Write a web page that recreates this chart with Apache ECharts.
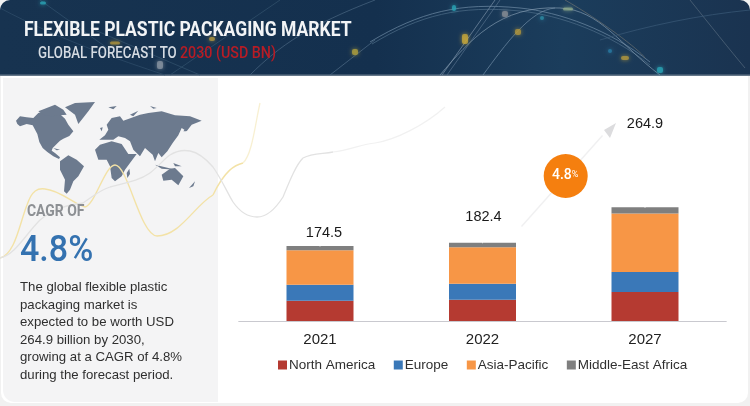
<!DOCTYPE html>
<html><head><meta charset="utf-8">
<style>html,body{margin:0;padding:0;background:#fff}#c{width:750px;height:406px}</style>
<script src="https://cdn.jsdelivr.net/npm/echarts@6/dist/echarts.min.js"></script>
</head><body><div id="c"></div>
<script>
const years = ['2021','2022','2027'];
const northAmerica = [47, 49.3, 67.4];
const europe = [37.6, 37.6, 46.5];
const asiaPacific = [80, 85, 136.4];
const middleEastAfrica = [9.9, 10.5, 14.6];
const totals = [174.5, 182.4, 264.9];
const totalLabelLift = [1, -12, -69];
const colors = ['#b53a31','#3a78b8','#f79646','#7f7f7f'];
const font = 'Liberation Sans';

function curve(d, style, z){
  const nums = d.replace(/[MCL]/g,m=>' '+m+' ').trim().split(/\s+/);
  const out=[]; let i=0,x=0,y=0,cmd='';
  const pt=()=>nums[i++].split(',').map(Number);
  while(i<nums.length){
    if(/[MCL]/.test(nums[i])){cmd=nums[i++];continue;}
    if(cmd==='M'){[x,y]=pt();}
    else if(cmd==='L'){const p=pt();out.push({type:'line',shape:{x1:x,y1:y,x2:p[0],y2:p[1]},style:{fill:null,...style},silent:true,z});[x,y]=p;}
    else {const a=pt(),b=pt(),c=pt();out.push({type:'bezierCurve',shape:{x1:x,y1:y,cpx1:a[0],cpy1:a[1],cpx2:b[0],cpy2:b[1],x2:c[0],y2:c[1]},style:{fill:null,...style},silent:true,z});[x,y]=c;}
  }
  return out;
}

const decorLines = [
 ['M370,42 C420,12 460,2 520,8 C560,12 610,30 650,62','#6f8ba5'],
 ['M372,44 C420,15 460,5 520,11 C560,15 610,33 650,65','#4f6d89'],
 ['M440,75 C470,40 500,5 560,8 C600,10 620,45 660,75','#8099ae'],
 ['M483,75 C505,45 530,10 555,8','#6f8ba5'],
 ['M442,75 L495,0','#7b90a6'],['M447,75 L500,0','#56708c'],
 ['M565,0 C600,20 640,50 645,58','#6a6f70'],
 ['M690,0 C710,25 730,50 745,68','#566a7e'],
 ['M600,40 C650,25 700,15 750,10','#3a5a78'],
 ['M0,8 C60,40 120,60 165,75','#2f4d6a'],
 ['M40,0 L110,50','#33526e'],
 ['M250,75 C280,45 310,25 375,0','#4a6682'],
 ['M170,75 L280,0','#33526e'],
 ['M330,75 L375,40','#4e6b86'],
 ['M90,28 L200,75','#33526e']
].flatMap(d => curve(d[0],{stroke:d[1],lineWidth:1,opacity:.7},2));

const sparks = [
 [454,8,'#2aa7b8',2,3],[465,39,'#c9a93a',3,5],[518,32,'#b3973c',3,3],[542,18,'#2d8fa8',2,2],
 [568,9,'#8fa98a',5,1.5],[610,51,'#2a7fa8',2,2],[625,58,'#b59a3c',4,2],[660,70,'#2aa7b8',3,3],
 [43,3,'#2aa7b8',3,1.5],[115,43,'#b3973c',5,1.5],[212,39,'#b3973c',3,2],[355,52,'#b3a23c',3,3],[160,65,'#8a96a3',3,4],[505,14,'#8a8f96',3,3]
].map(s => ({type:'rect',shape:{x:s[0]-s[3],y:s[1]-s[4],width:s[3]*2,height:s[4]*2,r:2},style:{fill:s[2],opacity:.75,shadowBlur:4,shadowColor:s[2]},silent:true,z:3}));

const mapA = [
 [[18,68],[30,55],[50,58],[70,60],[85,45],[105,38],[125,42],[140,48],[152,50],[165,62],[175,80],[190,100],[178,114],[160,122],[150,128],[140,138],[128,150],[125,158],[135,165],[150,178],[147,183],[130,175],[112,162],[98,150],[88,132],[82,108],[68,82],[50,78],[30,85],[22,78]],
 [[85,40],[110,30],[135,20],[160,35],[170,50],[150,52],[125,55],[100,50]],
 [[165,28],[195,15],[255,12],[235,40],[215,65],[205,78],[195,50]],
 [[150,190],[175,172],[200,185],[222,205],[205,235],[190,250],[180,275],[170,287],[162,280],[165,245],[150,215]],
 [[130,150],[150,155],[140,157]]
];
const mapB = [
 [[15,155],[30,140],[65,130],[95,138],[115,168],[140,168],[120,195],[105,215],[95,235],[75,250],[65,240],[60,205],[50,185],[25,185]],
 [[110,225],[118,212],[120,228],[112,240]],
 [[28,125],[45,112],[55,95],[50,80],[65,60],[90,55],[100,68],[150,50],[175,45],[215,40],[255,52],[300,55],[335,68],[305,80],[290,100],[275,90],[265,112],[248,135],[232,160],[215,178],[205,165],[195,190],[188,170],[165,150],[150,175],[130,155],[120,130],[105,120],[85,115],[70,125],[50,125]],
 [[30,90],[38,88],[35,100]],
 [[120,50],[145,38],[130,55]],
 [[55,28],[80,24],[70,34]],
 [[180,24],[200,30],[190,32]],
 [[195,200],[235,210],[255,215],[215,212]],
 [[250,195],[275,205],[255,205]],
 [[280,100],[292,85],[288,100]],
 [[215,230],[240,212],[255,210],[280,235],[265,262],[245,245],[220,248]],
 [[297,270],[315,250],[310,265]]
];
const mapPolys = [
 ...mapA.map(p=>p.map(q=>[10+q[0]/3,98+q[1]/3])),
 ...mapB.map(p=>p.map(q=>[90+q[0]/3,98+q[1]/3]))
].map(p => ({type:'polygon',shape:{points:p},style:{fill:'#6c7a8e'},silent:true,z:3}));

const option = {
 animation:false,
 backgroundColor:'#ffffff',
 grid:{left:238.75,right:23.75,top:80,bottom:85},
 legend:{
  left:273,top:353,icon:'rect',itemWidth:9,itemHeight:9,itemGap:18.5,
  data:['North America','Europe','Asia-Pacific','Middle-East Africa'],
  textStyle:{fontFamily:font,fontSize:13.5,color:'#303030',padding:[0,0,0,-3]}
 },
 xAxis:{
  type:'category',data:years,
  axisLine:{lineStyle:{color:'#c9c9cf',width:1}},axisTick:{show:false},
  axisLabel:{fontFamily:font,fontSize:15,color:'#222',margin:11}
 },
 yAxis:{type:'value',min:0,max:561.5,show:false,splitLine:{show:false}},
 series:[
  {name:'North America',type:'bar',stack:'t',barWidth:67,data:northAmerica,itemStyle:{color:colors[0]},z:3},
  {name:'Europe',type:'bar',stack:'t',data:europe,itemStyle:{color:colors[1]},z:3},
  {name:'Asia-Pacific',type:'bar',stack:'t',data:asiaPacific,itemStyle:{color:colors[2]},z:3},
  {name:'Middle-East Africa',type:'bar',stack:'t',data:middleEastAfrica,itemStyle:{color:colors[3]},z:3},
  {name:'Total',type:'line',data:totals.map((v,i)=>({value:v,label:{offset:[i===0?4:(i===1?1:0),totalLabelLift[i]]}})),
   showSymbol:true,symbolSize:1,lineStyle:{color:'transparent',width:0},itemStyle:{color:'transparent'},z:5,
   label:{show:true,position:'top',fontFamily:font,fontSize:14.5,color:'#1a1a1a',formatter:p=>p.value.toFixed(1)}}
 ],
 graphic:[
  {type:'rect',shape:{x:0,y:0,width:750,height:406},style:{fill:'#f1f1f1'},silent:true,z:-10},
  {type:'rect',shape:{x:1,y:0,width:747,height:403,r:10},style:{fill:'#ffffff'},silent:true,z:-9},
  {type:'rect',shape:{x:0,y:0,width:750,height:75,r:[10,10,0,0]},
   style:{fill:{type:'linear',x:0,y:0,x2:1,y2:0,colorStops:[{offset:0,color:'#173350'},{offset:.5,color:'#14304e'},{offset:.75,color:'#1b3d5c'},{offset:1,color:'#1a3350'}]}},silent:true,z:1},
  {type:'rect',shape:{x:0,y:74.5,width:750,height:1.5},style:{fill:'#66788a'},silent:true,z:2},
  ...decorLines,...sparks,
  {type:'text',x:24,y:20,scaleX:.835,z:6,style:{text:'FLEXIBLE PLASTIC PACKAGING MARKET',fontFamily:'Roboto',fontWeight:'bold',fontSize:21,fill:'#f2f4f6'},silent:true},
  {type:'text',x:38,y:45,scaleX:.78,z:6,style:{text:'GLOBAL FORECAST TO',fontFamily:'Roboto',fontWeight:500,fontSize:17,fill:'#d5dbe2'},silent:true},
  {type:'text',x:180,y:45,scaleX:.84,z:6,style:{text:'2030 (USD BN)',fontFamily:'Roboto',fontWeight:500,fontSize:17,fill:'#b71c25'},silent:true},
  {type:'rect',shape:{x:3,y:78,width:215,height:324,r:[0,0,0,12]},style:{fill:'#f4f4f5'},silent:true,z:0},
  ...mapPolys,
  ...curve('M0,258 C15,255 20,222 27,205 C32,190 38,188 45,189 C60,190 75,205 85,207 C95,205 105,165 115,165 C128,165 140,235 157,236 C180,236 195,205 213,195 C225,170 235,165 243,163',{stroke:'#f3e2a6',lineWidth:1.4},4),
  ...curve('M243,163 C252,155 255,125 260,103',{stroke:'#f8f0d2',lineWidth:1.3},4),
  ...curve('M0,258 C15,255 25,235 40,220 C55,208 68,205 83,203 C95,195 100,190 110,187 C130,182 140,180 150,173 C160,165 165,158 170,155 C178,150 185,150 190,151 C200,153 207,160 213,167 C222,180 227,192 233,202 C240,212 248,217 257,217 C268,217 276,208 283,197 C290,180 296,165 303,158 C312,153 322,154 333,152',{stroke:'#e2e2e2',lineWidth:1.3},4),
  ...curve('M333,152 C350,150 362,144 375,143 C395,140 425,125 445,107',{stroke:'#f1f1f1',lineWidth:1.2},4),
  {type:'text',x:27,y:203,scaleX:.82,z:6,style:{text:'CAGR OF',fontFamily:'Roboto',fontWeight:'bold',fontSize:17,fill:'#8d9094'},silent:true},
  {type:'text',x:20,y:233,scaleX:.92,z:6,style:{text:'4.8%',fontFamily:'Roboto',fontWeight:500,fontSize:37,fill:'#3472b0'},silent:true},
  {type:'text',left:20,top:279,z:6,style:{text:'The global flexible plastic\npackaging market is\nexpected to be worth USD\n264.9 billion by 2030,\ngrowing at a CAGR of 4.8%\nduring the forecast period.',fontFamily:font,fontSize:13.2,lineHeight:17.5,fill:'#2f2f2f'},silent:true},
  {type:'polygon',shape:{points:[[521,226],[522,227],[603,136],[602,135]]},style:{fill:'#f0f0f1'},silent:true,z:4},
  {type:'polygon',shape:{points:[[616,123],[604,130],[610,138]]},style:{fill:'#dcdcde'},silent:true,z:4},
  {type:'circle',shape:{cx:565.7,cy:176,r:22},style:{fill:'#f57f0f'},silent:true,z:5},
  {type:'text',left:552,top:168,z:6,style:{rich:{a:{fontFamily:'Roboto',fontWeight:500,fontSize:14,fill:'#fff'},b:{fontFamily:'Roboto',fontSize:9,fill:'#fff'}},text:'{a|4.8}{b|%}'},silent:true}
 ]
};
const chart = echarts.init(document.getElementById('c'),null,{renderer:'canvas'});
chart.setOption(option);
</script></body></html>
